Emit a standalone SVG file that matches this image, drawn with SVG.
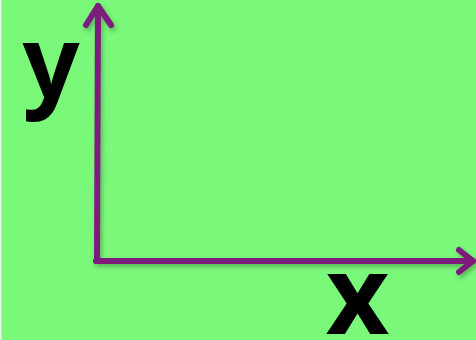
<svg xmlns="http://www.w3.org/2000/svg" width="476" height="340" viewBox="0 0 476 340">
  <defs>
    <filter id="sh" x="-20%" y="-20%" width="140%" height="140%">
      <feDropShadow dx="2" dy="3" stdDeviation="2" flood-color="#000" flood-opacity="0.25"/>
    </filter>
    <style>
      .axis { fill: none; stroke: #7e1a7e; stroke-width: 6; stroke-linecap: round; stroke-linejoin: round; }
      .lbl { font-family: "Noto Sans", "DejaVu Sans", sans-serif; font-weight: bold; fill: #000; text-anchor: middle; }
    </style>
  </defs>
  <rect x="0" y="0" width="476" height="340" fill="#e8f5e8"/>
  <rect x="1.5" y="0" width="474.5" height="340" fill="#79f879"/>
  <g id="connectors" filter="url(#sh)">
    <path class="axis" d="M97 261 L98 6"/>
    <path class="axis" d="M86 25 L98 6 L111 25"/>
    <path class="axis" d="M96 261 L473 261"/>
    <path class="axis" d="M459 250 L473 261 L459 272"/>
  </g>
  <g id="label-y">
    <text class="lbl" x="51" y="97.5" font-size="100">y</text>
  </g>
  <g id="label-x">
    <text class="lbl" x="357.5" y="334" font-size="110">x</text>
  </g>
</svg>
